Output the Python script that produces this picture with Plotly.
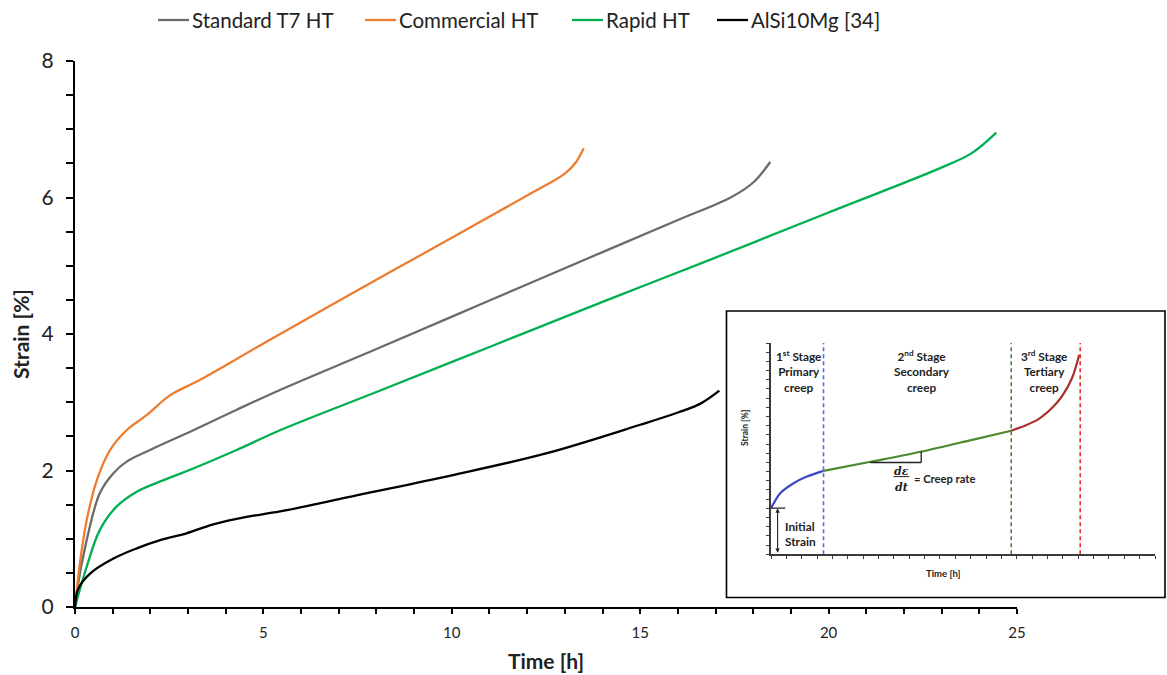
import plotly.graph_objects as go

# ---- creep curves (time in h, strain in %) ----
t_std = [0, 0.04, 0.31, 0.66, 1.02, 1.37, 1.99, 3.14, 4.29, 5.44, 8.0, 11.0, 14.0, 16.0, 17.4, 18.0, 18.45]
s_std = [0, 0.20, 0.98, 1.67, 1.96, 2.13, 2.30, 2.59, 2.89, 3.18, 3.78, 4.49, 5.20, 5.67, 6.00, 6.22, 6.52]

t_com = [0, 0.13, 0.31, 0.58, 0.93, 1.37, 1.90, 2.52, 3.32, 5.0, 7.5, 10.0, 12.0, 13.0, 13.3, 13.5]
s_com = [0, 0.64, 1.27, 1.86, 2.30, 2.59, 2.81, 3.10, 3.33, 3.86, 4.64, 5.41, 6.03, 6.35, 6.52, 6.72]

t_rap = [0, 0.31, 0.66, 1.10, 1.64, 2.26, 3.14, 4.29, 5.44, 8.0, 11.0, 14.0, 17.0, 20.0, 22.96, 23.8, 24.45]
s_rap = [0, 0.59, 1.13, 1.47, 1.69, 1.84, 2.03, 2.30, 2.59, 3.15, 3.81, 4.47, 5.12, 5.78, 6.43, 6.65, 6.95]

t_ref = [0, 0.09, 0.40, 1.02, 1.64, 2.26, 2.96, 3.67, 4.55, 5.44, 7.5, 10.0, 12.5, 15.0, 16.0, 16.6, 17.1]
s_ref = [0, 0.27, 0.49, 0.71, 0.86, 0.98, 1.08, 1.21, 1.32, 1.40, 1.64, 1.93, 2.25, 2.67, 2.85, 2.98, 3.17]

series_names = ["Standard T7 HT", "Commercial HT", "Rapid HT", "AlSi10Mg [34]"]
series_colors = ["#6b6b6b", "#ed7d31", "#00b050", "#000000"]

# ---- schematic creep curve for the inset (arbitrary units) ----
sch_t_primary = [0, 0.60, 1.47, 2.34, 3.42]
sch_s_primary = [5.02, 6.65, 7.74, 8.46, 9.08]
sch_t_secondary = [3.42, 6.57, 9.83, 13.10, 15.64]
sch_s_secondary = [9.08, 10.10, 11.19, 12.46, 13.45]
sch_t_tertiary = [15.64, 16.56, 17.42, 18.29, 18.94, 19.60, 20.07]
sch_s_tertiary = [13.45, 14.03, 14.72, 15.92, 17.19, 19.19, 21.73]
stage_bounds = [3.42, 15.64, 20.13]

FONT = "Lato"
TXT = "#222222"

# paper geometry helpers (plot area spans 75..1165 px horizontally)
L, R, T, B = 75, 2, 61, 68
PW = 1167 - L - R
PH = 675 - T - B


def px_x(p):
    return (p - L) / PW


def px_y(p):
    return (675 - B - p) / PH


fig = go.Figure()

for t, s, name, col in zip([t_std, t_com, t_rap, t_ref], [s_std, s_com, s_rap, s_ref],
                           series_names, series_colors):
    fig.add_trace(go.Scatter(x=t, y=s, mode="lines", name=name, showlegend=False,
                             line=dict(color=col, width=2.3, shape="spline", smoothing=1.0),
                             xaxis="x", yaxis="y"))

# inset curve, three stages
for t, s, col in [(sch_t_primary, sch_s_primary, "#3b48c4"),
                  (sch_t_secondary, sch_s_secondary, "#4d8a2e"),
                  (sch_t_tertiary, sch_s_tertiary, "#a8302c")]:
    fig.add_trace(go.Scatter(x=t, y=s, mode="lines", showlegend=False,
                             line=dict(color=col, width=2.2, shape="spline", smoothing=0.8),
                             xaxis="x2", yaxis="y2", hoverinfo="skip"))

shapes = []
ann = []

# legend row along the top
legend_line_start = [158, 365, 572, 717]
for x0, name, col in zip(legend_line_start, series_names, series_colors):
    shapes.append(dict(type="line", xref="paper", yref="paper", x0=px_x(x0), x1=px_x(x0 + 31),
                       y0=px_y(20), y1=px_y(20), line=dict(color=col, width=2.3)))
    ann.append(dict(x=px_x(x0 + 32), y=px_y(20), xref="paper", yref="paper", text=name,
                    showarrow=False, xanchor="left", yanchor="middle",
                    font=dict(family=FONT, size=20.5, color=TXT)))

# inset frame
shapes.append(dict(type="rect", xref="paper", yref="paper", x0=px_x(726.5), x1=1.0,
                   y0=px_y(597.5), y1=px_y(311),
                   line=dict(color="#000000", width=1.6), fillcolor="white", layer="below"))
# stage boundaries
for xb, col in zip(stage_bounds, ["#5d6ad6", "#4f7f3f", "#e6312b"]):
    shapes.append(dict(type="line", xref="x2", yref="y2", x0=xb, x1=xb, y0=0, y1=23,
                       line=dict(color=col, width=1.6, dash="4px,3px")))
# slope triangle
shapes.append(dict(type="line", xref="x2", yref="y2", x0=6.46, x1=9.78, y0=9.99, y1=9.99,
                   line=dict(color="#222222", width=1.3)))
shapes.append(dict(type="line", xref="x2", yref="y2", x0=9.78, x1=9.78, y0=9.99, y1=11.19,
                   line=dict(color="#222222", width=1.3)))
# fraction bar
shapes.append(dict(type="line", xref="x2", yref="y2", x0=7.98, x1=9.0, y0=8.46, y1=8.46,
                   line=dict(color="#222222", width=1)))
# initial strain marker
shapes.append(dict(type="line", xref="x2", yref="y2", x0=0, x1=0.93, y0=5.02, y1=5.02,
                   line=dict(color="#222222", width=1.2)))

stage_text = ["1<sup>st</sup> Stage<br>Primary<br>creep",
              "2<sup>nd</sup> Stage<br>Secondary<br>creep",
              "3<sup>rd</sup> Stage<br>Tertiary<br>creep"]
for xc, txt in zip([1.8, 9.83, 17.8], stage_text):
    ann.append(dict(x=xc, y=19.9, xref="x2", yref="y2", text="<b>" + txt + "</b>", showarrow=False,
                    font=dict(family=FONT, size=11.8, color=TXT), xanchor="center", yanchor="middle"))
ann.append(dict(x=0.78, y=2.26, xref="x2", yref="y2", text="<b>Initial<br>Strain</b>", showarrow=False,
                align="left", font=dict(family=FONT, size=11.8, color=TXT), xanchor="left", yanchor="middle"))
ann.append(dict(x=0.43, y=5.0, xref="x2", yref="y2", ax=0.43, ay=0.0, axref="x2", ayref="y2",
                text="", showarrow=True, arrowhead=2, arrowside="end+start", arrowsize=0.8,
                arrowwidth=1.1, arrowcolor="#222222", standoff=0, startstandoff=0))
ann.append(dict(x=8.48, y=9.05, xref="x2", yref="y2", text="<i><b>dε</b></i>", showarrow=False,
                font=dict(family="DejaVu Serif", size=11, color=TXT), xanchor="center", yanchor="middle"))
ann.append(dict(x=8.48, y=7.3, xref="x2", yref="y2", text="<i><b>dt</b></i>", showarrow=False,
                font=dict(family="DejaVu Serif", size=11, color=TXT), xanchor="center", yanchor="middle"))
ann.append(dict(x=9.2, y=8.2, xref="x2", yref="y2", text="<b>= Creep rate</b>", showarrow=False,
                font=dict(family=FONT, size=11.2, color=TXT), xanchor="left", yanchor="middle"))
ann.append(dict(x=px_x(745), y=px_y(448), xref="paper", yref="paper", text="<b>Strain [%]</b>",
                showarrow=False, textangle=-90, font=dict(family=FONT, size=8.5, color=TXT)))
ann.append(dict(x=px_x(962), y=px_y(581), xref="paper", yref="paper", text="<b>Time [h]</b>",
                showarrow=False, font=dict(family=FONT, size=9.5, color=TXT)))

fig.update_layout(
    width=1167, height=675,
    margin=dict(l=L, r=R, t=T, b=B, autoexpand=False),
    paper_bgcolor="white", plot_bgcolor="rgba(0,0,0,0)",
    font=dict(family=FONT, color=TXT),
    showlegend=False,
    xaxis=dict(domain=[0, px_x(1017)], range=[0, 25], showgrid=False, zeroline=False,
               showline=True, linecolor="#000000", linewidth=2,
               tickmode="linear", tick0=0, dtick=5, ticks="outside", ticklen=5, tickwidth=1.5,
               tickcolor="#000000", tickfont=dict(family=FONT, size=15, color=TXT),
               ticklabelstandoff=6,
               minor=dict(dtick=1, ticks="outside", ticklen=5, tickwidth=1.5, tickcolor="#000000"),
               title=dict(text="<b>Time [h]</b>", font=dict(family=FONT, size=21, color=TXT), standoff=14)),
    yaxis=dict(domain=[0, 1], range=[0, 8], showgrid=False, zeroline=False,
               showline=True, linecolor="#000000", linewidth=2,
               tickmode="linear", tick0=0, dtick=2, ticks="outside", ticklen=7, tickwidth=1.5,
               tickcolor="#000000", tickfont=dict(family=FONT, size=21, color=TXT),
               ticklabelstandoff=8,
               minor=dict(dtick=0.5, ticks="outside", ticklen=7, tickwidth=1.5, tickcolor="#000000"),
               title=dict(text="<b>Strain [%]</b>", font=dict(family=FONT, size=21, color=TXT), standoff=6)),
    xaxis2=dict(domain=[px_x(771), px_x(1155)], range=[0, 25], anchor="y2", showgrid=False,
                zeroline=False, showline=True, linecolor="#3a3a3a", linewidth=1.5, showticklabels=False,
                tickmode="linear", tick0=0, dtick=1, ticks="outside", ticklen=3, tickwidth=1,
                tickcolor="#3a3a3a"),
    yaxis2=dict(domain=[px_y(554.3), px_y(343)], range=[0, 23], anchor="x2", showgrid=False,
                zeroline=False, showline=True, linecolor="#3a3a3a", linewidth=1.5, showticklabels=False,
                tickmode="linear", tick0=0, dtick=1, ticks="outside", ticklen=3, tickwidth=1,
                tickcolor="#3a3a3a"),
    shapes=shapes,
    annotations=ann,
)

fig.write_html("out.html")
